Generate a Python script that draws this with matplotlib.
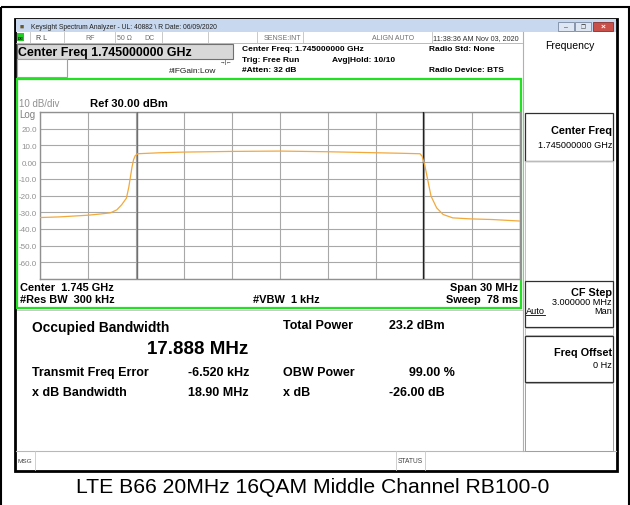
import numpy as np
import matplotlib
matplotlib.use("Agg")
import matplotlib.pyplot as plt
from matplotlib.patches import Rectangle

plt.rcParams["font.family"] = ["Liberation Sans", "DejaVu Sans"]

# ---------------------------------------------------------------------------
# Data
# ---------------------------------------------------------------------------
center_mhz = 1745.0
span_mhz = 30.0
ref_dbm = 30.0
obw_mhz = 17.888

freq_offset_mhz = [-15.0, -13.75, -12.0, -11.25, -10.6, -10.2, -9.9, -9.6,
                   -9.45, -9.35, -9.25, -9.15, -9.05, -8.9, -7.5, -6.0,
                   -3.0, 0.0, 3.0, 6.0, 7.5, 8.75, 8.88, 9.06, 9.27, 9.44,
                   9.79, 10.2, 10.8, 11.9, 13.3, 15.0]
level_dbm = [-33.2, -32.8, -31.8, -31.1, -30.4, -28.6, -25.6, -21.6,
             -15.0, -9.0, -3.0, 1.5, 3.8, 5.0, 5.6, 6.0,
             6.4, 6.6, 6.2, 5.6, 5.3, 5.0, 3.6, -2.4, -12.4, -20.4,
             -27.4, -31.4, -33.4, -34.0, -34.4, -35.3]

ytick_vals = [30, 20, 10, 0, -10, -20, -30, -40, -50, -60, -70]
ytick_text = ["", "20.0", "10.0", "0.00", "-10.0", "-20.0", "-30.0", "-40.0",
              "-50.0", "-60.0", ""]

W, H = 630, 506
fig = plt.figure(figsize=(W / 100, H / 100), dpi=100)

# pixel overlay for all the instrument chrome
ov = fig.add_axes([0, 0, 1, 1])
ov.set_xlim(0, W)
ov.set_ylim(H, 0)
ov.axis("off")


def box(x0, y0, x1, y1, fc="none", ec="none", lw=1.0, z=1):
    ov.add_patch(Rectangle((x0, y0), x1 - x0, y1 - y0, facecolor=fc,
                           edgecolor=ec, linewidth=lw, zorder=z))


def txt(x, y, s, size=6.0, bold=False, ha="left", color="black", z=5):
    ov.text(x, y, s, fontsize=size, fontweight="bold" if bold else "normal",
            ha=ha, va="center", color=color, zorder=z)


# outer frame
box(1, 8, 629, 520, ec="black", lw=1.5)

# window body
box(15, 20, 617, 472, fc="white", ec="black", lw=2.0)
box(16, 20, 616, 33, fc="#c8d8ee", z=2)
txt(20, 27, "\u25a0", size=5, color="#6b5a2a")
txt(31, 27, "Keysight Spectrum Analyzer - UL: 40882 \\ R Date: 06/09/2020",
    size=4.9, color="#202020")
# window buttons
box(558, 23, 574, 32, fc="#dde6f2", ec="#7a8aa0", lw=0.6, z=3)
box(575, 23, 591, 32, fc="#dde6f2", ec="#7a8aa0", lw=0.6, z=3)
box(593, 23, 613, 32, fc="#c9504a", ec="#8a3030", lw=0.6, z=3)
txt(566, 27.5, "\u2013", size=5, ha="center", color="#404040", z=4)
txt(583, 27.5, "\u2750", size=4, ha="center", color="#404040", z=4)
txt(603, 27.5, "\u00d7", size=6, ha="center", color="white", bold=True, z=4)

# status row
ov.plot([16, 522], [43.5, 43.5], color="#b0b0b0", lw=0.6, zorder=3)
for xd in [30, 64, 115, 162, 208, 257, 303, 432]:
    ov.plot([xd, xd], [33, 43.5], color="#c0c0c0", lw=0.6, zorder=3)
box(17, 34, 24, 42, fc="#22cc22", z=3)
txt(20.5, 38.5, "LXI", size=2.5, ha="center", bold=True, z=4)
txt(36, 38.5, "R L", size=5.0, color="#404040")
txt(85, 38.5, "RF", size=5.0, color="#707070")
txt(117, 38.5, "50 \u03a9", size=5.0, color="#707070")
txt(144, 38.5, "DC", size=5.0, color="#707070")
txt(282, 38.5, "SENSE:INT", size=5.0, ha="center", color="#707070")
txt(393, 38.5, "ALIGN AUTO", size=5.0, ha="center", color="#707070")
txt(476, 38.5, "11:38:36 AM Nov 03, 2020", size=5.2, ha="center",
    color="#303030")

# active function box
box(16.5, 45, 233, 59.5, fc="#d8d8d8", ec="#707070", lw=0.8, z=3)
txt(18, 52.5, "Center Freq 1.745000000 GHz", size=8.9, bold=True, z=4)
box(16.5, 60, 67, 78, fc="white", ec="#a0a0a0", lw=0.8, z=3)
txt(216, 71.5, "#IFGain:Low", size=6.0, ha="right", color="#202020")
txt(226, 62, "\u2192|\u2190", size=4.0, ha="center", color="#202020")

# setup annotations
txt(242, 49, "Center Freq: 1.745000000 GHz", size=6.05, bold=True)
txt(242, 60, "Trig: Free Run", size=6.05, bold=True)
txt(242, 70.5, "#Atten: 32 dB", size=6.05, bold=True)
txt(332, 60, "Avg|Hold: 10/10", size=6.05, bold=True)
txt(429, 49, "Radio Std: None", size=6.05, bold=True)
txt(429, 70.5, "Radio Device: BTS", size=6.05, bold=True)

# green trace window
box(17, 80, 521, 309, ec="#22e022", lw=1.6, z=3)
txt(19, 104, "10 dB/div", size=7.0, color="#909090")
txt(19, 115, "Log", size=7.0, color="#808080")
txt(90, 104, "Ref 30.00 dBm", size=8.1, bold=True)
txt(20, 288, "Center  1.745 GHz", size=7.9, bold=True)
txt(20, 300, "#Res BW  300 kHz", size=7.9, bold=True)
txt(253, 300, "#VBW  1 kHz", size=7.9, bold=True)
txt(518, 288, "Span 30 MHz", size=7.9, bold=True, ha="right")
txt(518, 300, "Sweep  78 ms", size=7.9, bold=True, ha="right")

# measurement results panel
ov.plot([17, 522], [311, 311], color="#c0c0c0", lw=0.6, zorder=3)
txt(32, 328, "Occupied Bandwidth", size=9.9, bold=True)
txt(248, 350, "17.888 MHz", size=13.5, bold=True, ha="right")
txt(283, 326, "Total Power", size=9.0, bold=True)
txt(389, 326, "23.2 dBm", size=9.0, bold=True)
txt(32, 373, "Transmit Freq Error", size=9.0, bold=True)
txt(188, 373, "-6.520 kHz", size=9.0, bold=True)
txt(283, 373, "OBW Power", size=9.0, bold=True)
txt(455, 373, "99.00 %", size=9.0, bold=True, ha="right")
txt(32, 393, "x dB Bandwidth", size=9.0, bold=True)
txt(188, 393, "18.90 MHz", size=9.0, bold=True)
txt(283, 393, "x dB", size=9.0, bold=True)
txt(389, 393, "-26.00 dB", size=9.0, bold=True)

# message / status bar
ov.plot([16, 616], [452, 452], color="#b8b8b8", lw=0.8, zorder=3)
for xd in [35, 396, 425]:
    ov.plot([xd, xd], [452, 471], color="#c8c8c8", lw=0.6, zorder=3)
txt(17, 461.5, "MSG", size=4.6, color="#404040")
txt(410.5, 461.5, "STATUS", size=4.8, ha="center", color="#404040")

# softkey panel
ov.plot([523, 523], [33, 452], color="#b0b0b0", lw=0.8, zorder=3)
txt(570, 46, "Frequency", size=7.5, ha="center")
box(525, 114, 613, 161.5, ec="#303030", lw=0.9, z=3)
txt(612, 131, "Center Freq", size=7.8, bold=True, ha="right")
txt(612, 145.5, "1.745000000 GHz", size=6.6, ha="right")
box(525, 162, 613, 281.5, ec="#c0c0c0", lw=0.7, z=3)
box(525, 282, 613, 328, ec="#303030", lw=0.9, z=3)
txt(612, 293, "CF Step", size=7.8, bold=True, ha="right")
txt(612, 302.5, "3.000000 MHz", size=6.6, ha="right")
txt(526, 311.5, "Auto", size=6.6)
ov.plot([526, 545], [316, 316], color="black", lw=0.6, zorder=4)
txt(612, 311.5, "Man", size=6.6, ha="right")
box(525, 329, 613, 336, ec="#c0c0c0", lw=0.7, z=3)
box(525, 337, 613, 383, ec="#303030", lw=0.9, z=3)
txt(612, 353, "Freq Offset", size=7.8, bold=True, ha="right")
txt(612, 366, "0 Hz", size=6.6, ha="right")
box(525, 384, 613, 452, ec="#a0a0a0", lw=0.7, z=3)

# caption under the screenshot
txt(313, 488, "LTE B66 20MHz 16QAM Middle Channel RB100-0", size=15.2,
    ha="center")

# ---------------------------------------------------------------------------
# Spectrum trace
# ---------------------------------------------------------------------------
px0, py0, px1, py1 = 40, 113, 520, 280
ax = fig.add_axes([px0 / W, 1 - py1 / H, (px1 - px0) / W, (py1 - py0) / H])
ax.set_zorder(10)
ax.patch.set_alpha(0)

freqs = center_mhz + np.array(freq_offset_mhz)
ax.plot(freqs, level_dbm, color="#f2a93b", lw=0.9, zorder=4)

ax.set_xlim(center_mhz - span_mhz / 2, center_mhz + span_mhz / 2)
ax.set_ylim(ref_dbm - 100, ref_dbm)
ax.set_xticks(np.arange(center_mhz - 15, center_mhz + 15.1, 3))
ax.set_xticklabels([])
ax.set_yticks(ytick_vals)
ax.set_yticklabels(ytick_text, fontsize=5.8, color="#909090")
ax.tick_params(axis="both", which="both", length=0, pad=2)
ax.grid(True, color="#a8a8a8", lw=0.8)
for s in ax.spines.values():
    s.set_color("#909090")
    s.set_linewidth(1.0)

# occupied bandwidth markers
ax.axvline(center_mhz - obw_mhz / 2, color="#707070", lw=1.0, zorder=3)
ax.axvline(center_mhz + obw_mhz / 2, color="#202020", lw=1.0, zorder=3)

fig.savefig("out.png", dpi=100)
